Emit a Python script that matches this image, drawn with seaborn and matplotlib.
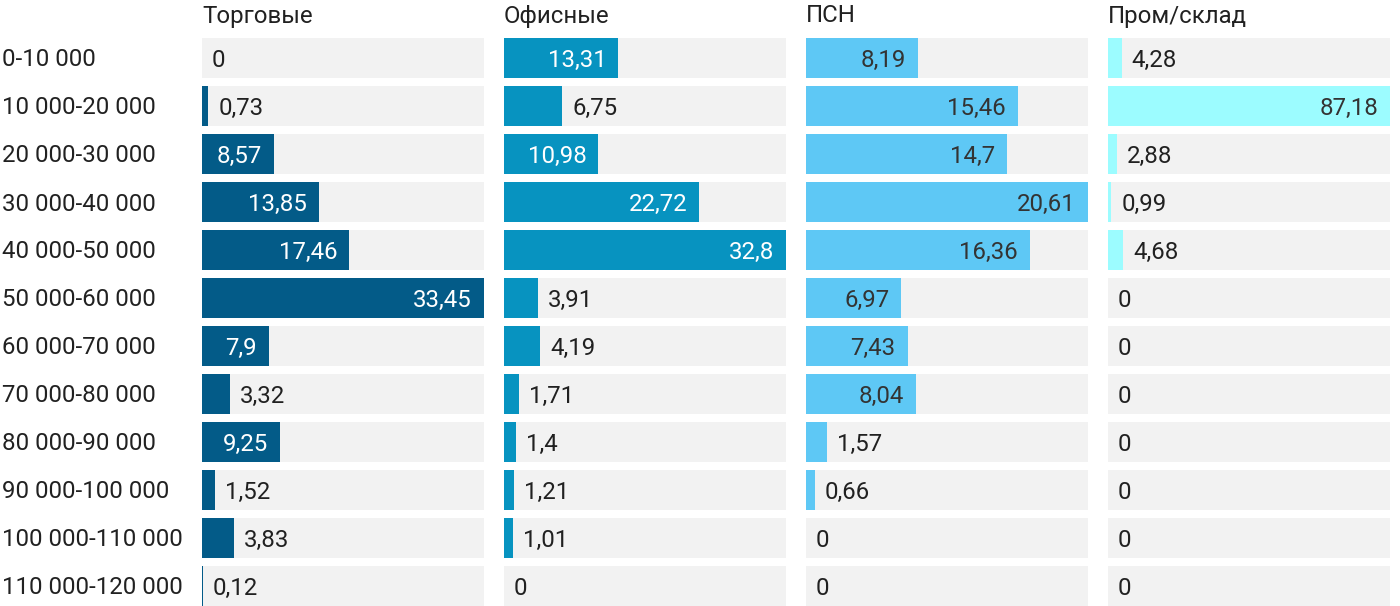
import matplotlib
matplotlib.use("Agg")
import matplotlib.pyplot as plt
import seaborn as sns
import pandas as pd

categories = ["0-10 000", "10 000-20 000", "20 000-30 000", "30 000-40 000",
              "40 000-50 000", "50 000-60 000", "60 000-70 000", "70 000-80 000",
              "80 000-90 000", "90 000-100 000", "100 000-110 000", "110 000-120 000"]
titles = ["Торговые", "Офисные", "ПСН", "Пром/склад"]
trade = [0, 0.73, 8.57, 13.85, 17.46, 33.45, 7.9, 3.32, 9.25, 1.52, 3.83, 0.12]
office = [13.31, 6.75, 10.98, 22.72, 32.8, 3.91, 4.19, 1.71, 1.4, 1.21, 1.01, 0]
psn = [8.19, 15.46, 14.7, 20.61, 16.36, 6.97, 7.43, 8.04, 1.57, 0.66, 0, 0]
industrial = [4.28, 87.18, 2.88, 0.99, 4.68, 0, 0, 0, 0, 0, 0, 0]
series = [trade, office, psn, industrial]
colors = ["#035b88", "#0793c0", "#5ec8f5", "#9cfcff"]
inside_text = ["white", "white", "#333333", "#333333"]

sns.set_theme(style="white")
plt.rcParams["font.family"] = ["Roboto", "DejaVu Sans"]

W, H = 1400, 606
fig = plt.figure(figsize=(W / 100, H / 100), dpi=100)

panel_left = [202, 504, 806, 1108]
panel_w = 282
row = 48
top = 34  # top of axes (pixels)
n = len(categories)
ax_h = n * row
bar_h = 40 / 48
fs = 17.3
dy = -1.5  # small downward shift (points) for vertical centring

def text_width_px(s):
    w = 0
    for ch in s:
        w += 5 if ch == "," else 13.4
    return w

for i, (vals, col) in enumerate(zip(series, colors)):
    left = panel_left[i] / W
    bottom = (H - top - ax_h) / H
    ax = fig.add_axes([left, bottom, panel_w / W, ax_h / H])
    vmax = max(vals)
    df = pd.DataFrame({"cat": categories, "val": vals, "bg": [vmax] * n})
    sns.barplot(data=df, x="bg", y="cat", orient="h", color="#f2f2f2",
                width=bar_h, ax=ax, saturation=1, linewidth=0)
    sns.barplot(data=df, x="val", y="cat", orient="h", color=col,
                width=bar_h, ax=ax, saturation=1, linewidth=0)
    ax.set_xlim(0, vmax)
    ax.set_ylim(n - 0.5, -0.5)
    ax.axis("off")
    for j, v in enumerate(vals):
        lab = f"{v:g}".replace(".", ",")
        bar_px = v / vmax * panel_w
        if v > 0 and bar_px >= text_width_px(lab) + 22:
            ax.annotate(lab, (v, j), xytext=(-8.6, dy), textcoords="offset points",
                        ha="right", va="center", fontsize=fs, color=inside_text[i])
        else:
            ax.annotate(lab, (v, j), xytext=(7.2, dy), textcoords="offset points",
                        ha="left", va="center", fontsize=fs, color="#212121")
    fig.text(panel_left[i] / W, 1 - 16 / H, titles[i], ha="left", va="center",
             fontsize=fs, color="#212121")

for j, c in enumerate(categories):
    y = top + row * j + row / 2 + 2
    fig.text(2 / W, 1 - y / H, c, ha="left", va="center", fontsize=fs, color="#212121")

fig.savefig("out.png", dpi=100)
